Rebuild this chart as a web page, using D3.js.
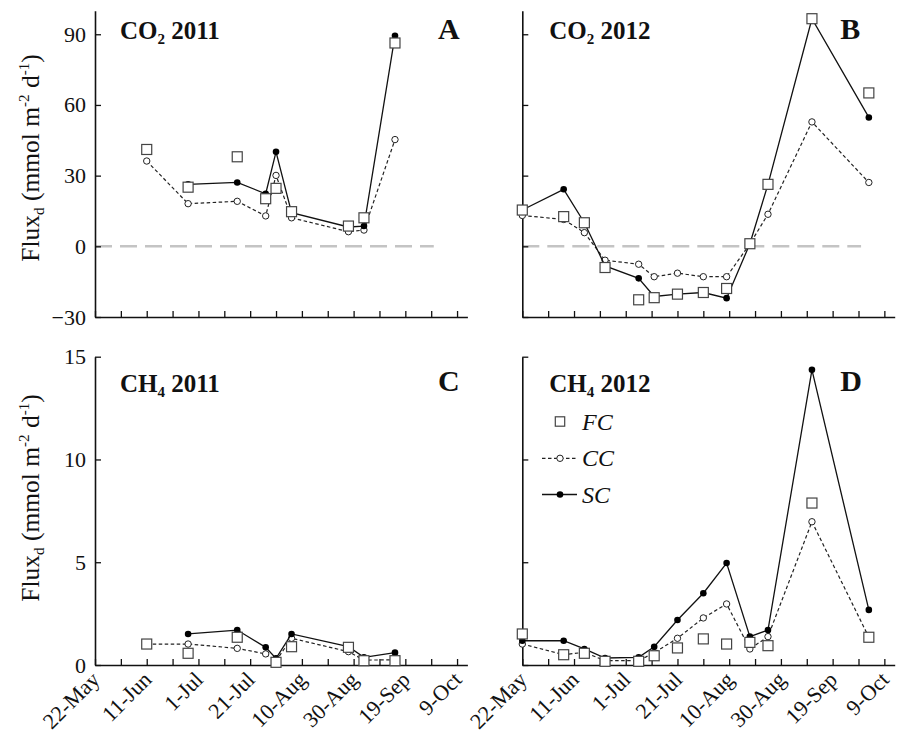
<!DOCTYPE html>
<html>
<head>
<meta charset="utf-8">
<script src="https://cdn.jsdelivr.net/npm/d3@7"></script>
<style>
  body { margin: 0; background: #fff; }
  svg text { font-family: "Liberation Serif", "DejaVu Serif", serif; }
</style>
</head>
<body>
<script>
// sampling dates (month-day), both seasons
const dates2011 = ["06-11", "06-27", "07-16", "07-27", "07-31", "08-06", "08-28", "09-03", "09-15"];
const dates2012 = ["05-22", "06-07", "06-15", "06-23", "07-06", "07-12", "07-21", "07-31", "08-09", "08-18", "08-25", "09-11", "10-03"];

// CO2 flux 2011 (panel A)
const co2FC2011 = [41.1, 25.1, 38.0, 20.2, 24.6, 14.7, 8.6, 12.1, 86.3];
const co2CC2011 = [36.2, 18.1, 19.1, 12.9, 30.1, 12.1, 6.2, 6.9, 45.3];
const co2SC2011 = [null, 26.3, 27.1, 22.3, 40.1, 14.3, 8.2, 8.6, 89.4];

// CO2 flux 2012 (panel B)
const co2FC2012 = [15.4, 12.6, 10.0, -9.0, -22.7, -21.8, -20.3, -19.6, -17.9, 1.1, 26.3, 96.6, 65.1];
const co2CC2012 = [13.1, 11.4, 5.8, -5.9, -7.6, -12.9, -11.4, -12.9, -12.9, 1.0, 13.6, 52.8, 27.1];
const co2SC2012 = [15.4, 24.2, 10.0, -8.3, -13.6, -21.3, -20.3, -19.6, -22.0, 1.1, 26.3, 96.6, 54.7];

// CH4 flux 2011 (panel C)
const ch4FC2011 = [1.02, 0.57, 1.35, null, 0.13, 0.89, 0.86, 0.21, 0.21];
const ch4CC2011 = [1.02, 1.02, 0.81, 0.54, 0.20, 1.30, 0.65, 0.24, 0.25];
const ch4SC2011 = [null, 1.51, 1.70, 0.86, 0.32, 1.51, 0.89, 0.37, 0.60];

// CH4 flux 2012 (panel D)
const ch4FC2012 = [1.51, 0.50, 0.57, 0.18, 0.18, 0.45, 0.83, 1.27, 1.02, 1.10, 0.94, 7.88, 1.35];
const ch4CC2012 = [1.02, 0.50, 0.62, 0.21, 0.21, 0.60, 1.30, 2.29, 2.97, 0.78, 1.38, 6.97, 1.35];
const ch4SC2012 = [1.18, 1.18, 0.78, 0.34, 0.37, 0.89, 2.19, 3.49, 4.96, 1.38, 1.70, 14.36, 2.68];

const co2Ticks = [-30, 0, 30, 60, 90];
const ch4Ticks = [0, 5, 10, 15];
const legendNames = ["FC", "CC", "SC"];

var serif = "Liberation Serif";
var parseMD = d3.timeParse("%m-%d");
var start = parseMD("05-22");
var end = parseMD("10-13");
var zeroEnd = parseMD("09-30");
// every 10 days from 22-May, label every 20
var xTicks = d3.range(0, 141, 10).map(d => d3.timeDay.offset(start, d));
var fmt = d3.timeFormat("%-d-%b");

var svg = d3.select("body").append("svg")
    .attr("width", 897)
    .attr("height", 738)
    .attr("font-family", serif);

var cols = [[95, 467.4], [522.3, 894.7]];
var rows = {
    co2: {range: [317, 10.7], domain: [-30, 100], ticks: co2Ticks},
    ch4: {range: [665, 356.7], domain: [0, 15], ticks: ch4Ticks}
};

var panels = [
    {col: 0, row: "co2", dates: dates2011, fc: co2FC2011, cc: co2CC2011, sc: co2SC2011,
     gas: "CO", sub: "2", year: "2011", letter: "A", zero: true},
    {col: 1, row: "co2", dates: dates2012, fc: co2FC2012, cc: co2CC2012, sc: co2SC2012,
     gas: "CO", sub: "2", year: "2012", letter: "B", zero: true},
    {col: 0, row: "ch4", dates: dates2011, fc: ch4FC2011, cc: ch4CC2011, sc: ch4SC2011,
     gas: "CH", sub: "4", year: "2011", letter: "C"},
    {col: 1, row: "ch4", dates: dates2012, fc: ch4FC2012, cc: ch4CC2012, sc: ch4SC2012,
     gas: "CH", sub: "4", year: "2012", letter: "D", legend: true}
];

function drawPanel(p) {
    var r = rows[p.row];
    var x = d3.scaleTime().domain([start, end]).range(cols[p.col]);
    var y = d3.scaleLinear().domain(r.domain).range(r.range);
    var g = svg.append("g");
    var pts = p.dates.map((d, i) => ({date: parseMD(d), fc: p.fc[i], cc: p.cc[i], sc: p.sc[i]}));

    if (p.zero) {
        g.append("line")
            .attr("x1", x(start)).attr("x2", x(zeroEnd))
            .attr("y1", y(0)).attr("y2", y(0))
            .attr("stroke", "#c4c4c4")
            .attr("stroke-width", 2.6)
            .attr("stroke-dasharray", "17,8");
    }

    // x axis
    var xa = g.append("g")
        .attr("transform", `translate(0,${r.range[0]})`)
        .call(d3.axisBottom(x).tickValues(xTicks).tickSize(-6).tickSizeOuter(0).tickFormat(""));
    // y axis
    var ya = g.append("g")
        .attr("transform", `translate(${cols[p.col][0]},0)`)
        .call(d3.axisLeft(y).tickValues(r.ticks).tickSize(-6).tickSizeOuter(0).tickPadding(9)
            .tickFormat(p.col === 0 ? d3.format("") : ""));
    [xa, ya].forEach(a => {
        a.attr("font-family", serif);
        a.select(".domain").attr("stroke", "#111").attr("stroke-width", 1.6);
        a.selectAll(".tick line").attr("stroke", "#111").attr("stroke-width", 1.3);
    });
    ya.selectAll(".tick text")
        .attr("font-size", 22).attr("fill", "#111");

    if (p.row === "ch4") {
        g.selectAll(".xlab")
            .data(xTicks.filter((d, i) => i % 2 === 0))
            .enter().append("text")
            .attr("transform", d => `translate(${x(d) + 6},${r.range[0] + 16}) rotate(-45)`)
            .attr("text-anchor", "end")
            .attr("font-size", 22)
            .attr("fill", "#111")
            .text(d => fmt(d));
    }

    // CC dashed
    var ccLine = d3.line().defined(d => d.cc != null).x(d => x(d.date)).y(d => y(d.cc));
    g.append("path").datum(pts).attr("d", ccLine)
        .attr("fill", "none").attr("stroke", "#222").attr("stroke-width", 1.2)
        .attr("stroke-dasharray", "3.5,2.5");
    g.selectAll(".cc").data(pts.filter(d => d.cc != null)).enter().append("circle")
        .attr("cx", d => x(d.date)).attr("cy", d => y(d.cc)).attr("r", 3.2)
        .attr("fill", "#fff").attr("stroke", "#222").attr("stroke-width", 1);

    // SC solid
    var scLine = d3.line().defined(d => d.sc != null).x(d => x(d.date)).y(d => y(d.sc));
    g.append("path").datum(pts).attr("d", scLine)
        .attr("fill", "none").attr("stroke", "#111").attr("stroke-width", 1.3);
    g.selectAll(".sc").data(pts.filter(d => d.sc != null)).enter().append("circle")
        .attr("cx", d => x(d.date)).attr("cy", d => y(d.sc)).attr("r", 3.3)
        .attr("fill", "#000");

    // FC squares
    g.selectAll(".fc").data(pts.filter(d => d.fc != null)).enter().append("rect")
        .attr("x", d => x(d.date) - 5).attr("y", d => y(d.fc) - 5)
        .attr("width", 10).attr("height", 10)
        .attr("fill", "#fff").attr("stroke", "#444").attr("stroke-width", 1.2);

    // titles
    var tx = cols[p.col][0] + (p.col === 0 ? 25 : 27);
    var ty = p.row === "co2" ? 39 : 392;
    var t = g.append("text").attr("x", tx).attr("y", ty)
        .attr("font-size", 25).attr("font-weight", "bold").attr("fill", "#111");
    t.append("tspan").text(p.gas);
    t.append("tspan").attr("font-size", 15).attr("dy", 5).text(p.sub);
    t.append("tspan").attr("dy", -5).text(" " + p.year);
    g.append("text")
        .attr("x", cols[p.col][0] + (p.col === 0 ? 343 : 318))
        .attr("y", p.row === "co2" ? 39 : 391)
        .attr("font-size", 30).attr("font-weight", "bold").attr("fill", "#111")
        .text(p.letter);

    if (p.legend) {
        var lx = 560, ly = [421.5, 458.3, 494.5];
        var lg = g.append("g");
        lg.append("rect").attr("x", lx - 4.7).attr("y", ly[0] - 4.7).attr("width", 9.4).attr("height", 9.4)
            .attr("fill", "#fff").attr("stroke", "#444").attr("stroke-width", 1.2);
        lg.append("line").attr("x1", lx - 18).attr("x2", lx + 16).attr("y1", ly[1]).attr("y2", ly[1])
            .attr("stroke", "#222").attr("stroke-width", 1.2).attr("stroke-dasharray", "3.5,2.5");
        lg.append("circle").attr("cx", lx).attr("cy", ly[1]).attr("r", 3.2)
            .attr("fill", "#fff").attr("stroke", "#222");
        lg.append("line").attr("x1", lx - 18).attr("x2", lx + 17).attr("y1", ly[2]).attr("y2", ly[2])
            .attr("stroke", "#111").attr("stroke-width", 1.3);
        lg.append("circle").attr("cx", lx).attr("cy", ly[2]).attr("r", 3.3).attr("fill", "#000");
        lg.selectAll("text").data(legendNames).enter().append("text")
            .attr("x", lx + 22).attr("y", (d, i) => ly[i] + 8)
            .attr("font-size", 24).attr("font-style", "italic").attr("fill", "#111")
            .text(d => d);
    }
}

panels.forEach(drawPanel);

// y axis titles
[158, 498].forEach(cy => {
    var t = svg.append("text")
        .attr("transform", `translate(39,${cy}) rotate(-90)`)
        .attr("text-anchor", "middle")
        .attr("font-size", 25.5).attr("fill", "#111");
    t.append("tspan").text("Flux");
    t.append("tspan").attr("font-size", 15).attr("dy", 5).text("d");
    t.append("tspan").attr("dy", -5).text(" (mmol m");
    t.append("tspan").attr("font-size", 15).attr("dy", -10).text("-2");
    t.append("tspan").attr("dy", 10).text(" d");
    t.append("tspan").attr("font-size", 15).attr("dy", -10).text("-1");
    t.append("tspan").attr("dy", 10).text(")");
});
</script>
</body>
</html>
